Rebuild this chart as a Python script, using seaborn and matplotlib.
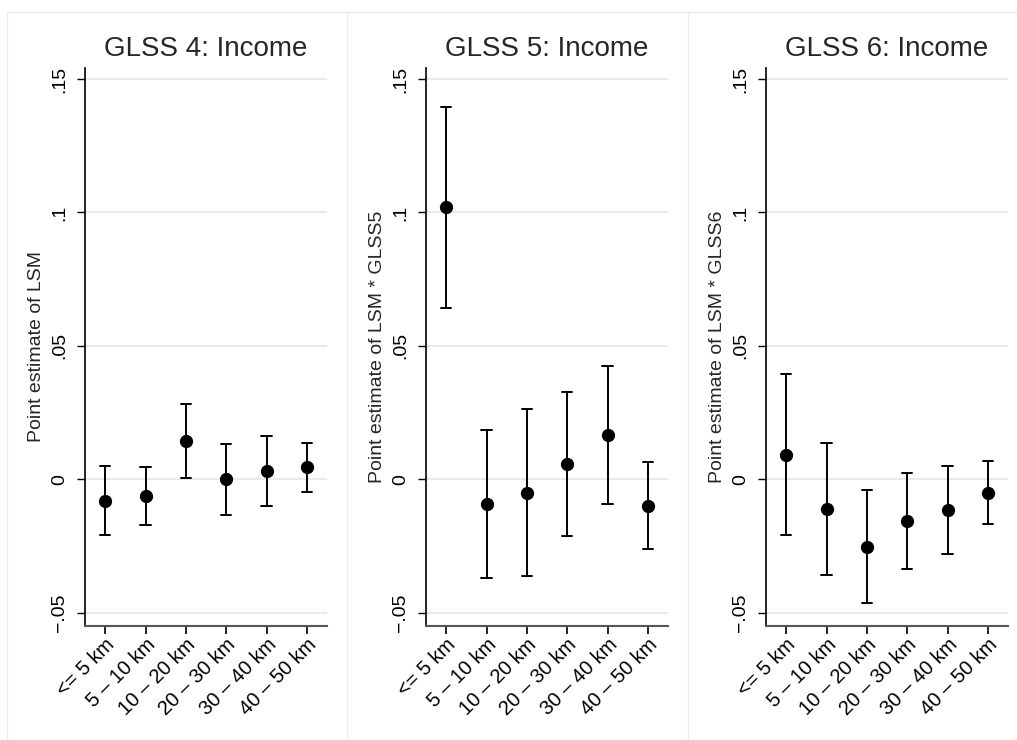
import numpy as np
import pandas as pd
import matplotlib.pyplot as plt
import seaborn as sns
from matplotlib.lines import Line2D

# distance bands (x categories)
distance = ["<= 5 km", "5 – 10 km", "10 – 20 km", "20 – 30 km", "30 – 40 km", "40 – 50 km"]

# GLSS 4: point estimate of LSM with 95% CI
glss4_est = [-0.0080, -0.0062, 0.0145, 0.0000, 0.0030, 0.0045]
glss4_lo = [-0.0209, -0.0170, 0.0005, -0.0132, -0.0100, -0.0046]
glss4_hi = [0.0050, 0.0047, 0.0283, 0.0134, 0.0162, 0.0138]

# GLSS 5: LSM * GLSS5
glss5_est = [0.1021, -0.0093, -0.0050, 0.0057, 0.0165, -0.0099]
glss5_lo = [0.0643, -0.0371, -0.0362, -0.0211, -0.0093, -0.0262]
glss5_hi = [0.1396, 0.0185, 0.0263, 0.0326, 0.0425, 0.0066]

# GLSS 6: LSM * GLSS6
glss6_est = [0.0091, -0.0110, -0.0254, -0.0156, -0.0116, -0.0050]
glss6_lo = [-0.0209, -0.0357, -0.0463, -0.0335, -0.0280, -0.0167]
glss6_hi = [0.0393, 0.0137, -0.0040, 0.0025, 0.0051, 0.0069]

titles = ["GLSS 4: Income", "GLSS 5: Income", "GLSS 6: Income"]
ylabels = ["Point estimate of LSM", "Point estimate of LSM * GLSS5",
           "Point estimate of LSM * GLSS6"]
yticks = [-0.05, 0, 0.05, 0.1, 0.15]
yticklabels = ["\u2212.05", "0", ".05", ".1", ".15"]

sns.set_style("white")
plt.rcParams['font.family'] = ['Liberation Sans', 'DejaVu Sans']

W, H = 1017, 740
fig = plt.figure(figsize=(W / 100, H / 100), dpi=100)

# light panel frames like a combined Stata graph
for px in [7, 347, 688]:
    fig.add_artist(Line2D([px / W, px / W], [0, 1 - 12 / H],
                          transform=fig.transFigure, color='#ebebeb', lw=1))
fig.add_artist(Line2D([7 / W, 1], [1 - 12 / H, 1 - 12 / H],
                      transform=fig.transFigure, color='#ebebeb', lw=1))

panels = [(glss4_est, glss4_lo, glss4_hi),
          (glss5_est, glss5_lo, glss5_hi),
          (glss6_est, glss6_lo, glss6_hi)]
lefts = [85, 426, 766]

for i, (est, lo, hi) in enumerate(panels):
    ax = fig.add_axes([lefts[i] / W, (H - 626) / H, 242 / W, 558 / H])

    # long table: lower, estimate, upper per category; median -> estimate,
    # errorbar -> (min, max) = confidence interval
    df = pd.DataFrame({
        'distance': distance * 3,
        'value': list(lo) + list(est) + list(hi),
    })
    sns.pointplot(data=df, x='distance', y='value', order=distance,
                  estimator='median', errorbar=lambda v: (v.min(), v.max()),
                  color='black', linestyle='none', markers='o',
                  markersize=7.5, capsize=0.25,
                  err_kws={'linewidth': 1.4}, ax=ax)

    ax.set_xlim(-0.5, 5.5)
    ax.set_ylim(-0.0549, 0.1541)
    ax.set_yticks(yticks)
    ax.set_yticklabels(yticklabels)
    ax.set_xticks(range(len(distance)))
    ax.set_xticklabels(distance, rotation=45, ha='right', va='top',
                       rotation_mode='anchor')
    ax.tick_params(axis='y', labelsize=14, length=6, width=1, pad=6,
                   labelrotation=90, left=True, colors='black')
    ax.tick_params(axis='x', labelsize=14.5, length=5.5, width=1.2, pad=1,
                   bottom=True, colors='black')
    for t in ax.get_yticklabels():
        t.set_va('center')
        t.set_ha('right')

    ax.yaxis.grid(True, color='#e6e6e6', linewidth=1.2)
    ax.xaxis.grid(False)
    ax.set_axisbelow(True)

    ax.spines['top'].set_visible(False)
    ax.spines['right'].set_visible(False)
    ax.spines['left'].set_color('black')
    ax.spines['left'].set_linewidth(1.2)
    ax.spines['bottom'].set_color('#555555')
    ax.spines['bottom'].set_linewidth(1.5)

    ax.set_title(titles[i], fontsize=20, pad=9)
    ax.set_xlabel('')
    ax.set_ylabel(ylabels[i], fontsize=14)
    ax.yaxis.set_label_coords(-0.165, 0.5)

plt.savefig("out.png", dpi=100)
plt.close()
